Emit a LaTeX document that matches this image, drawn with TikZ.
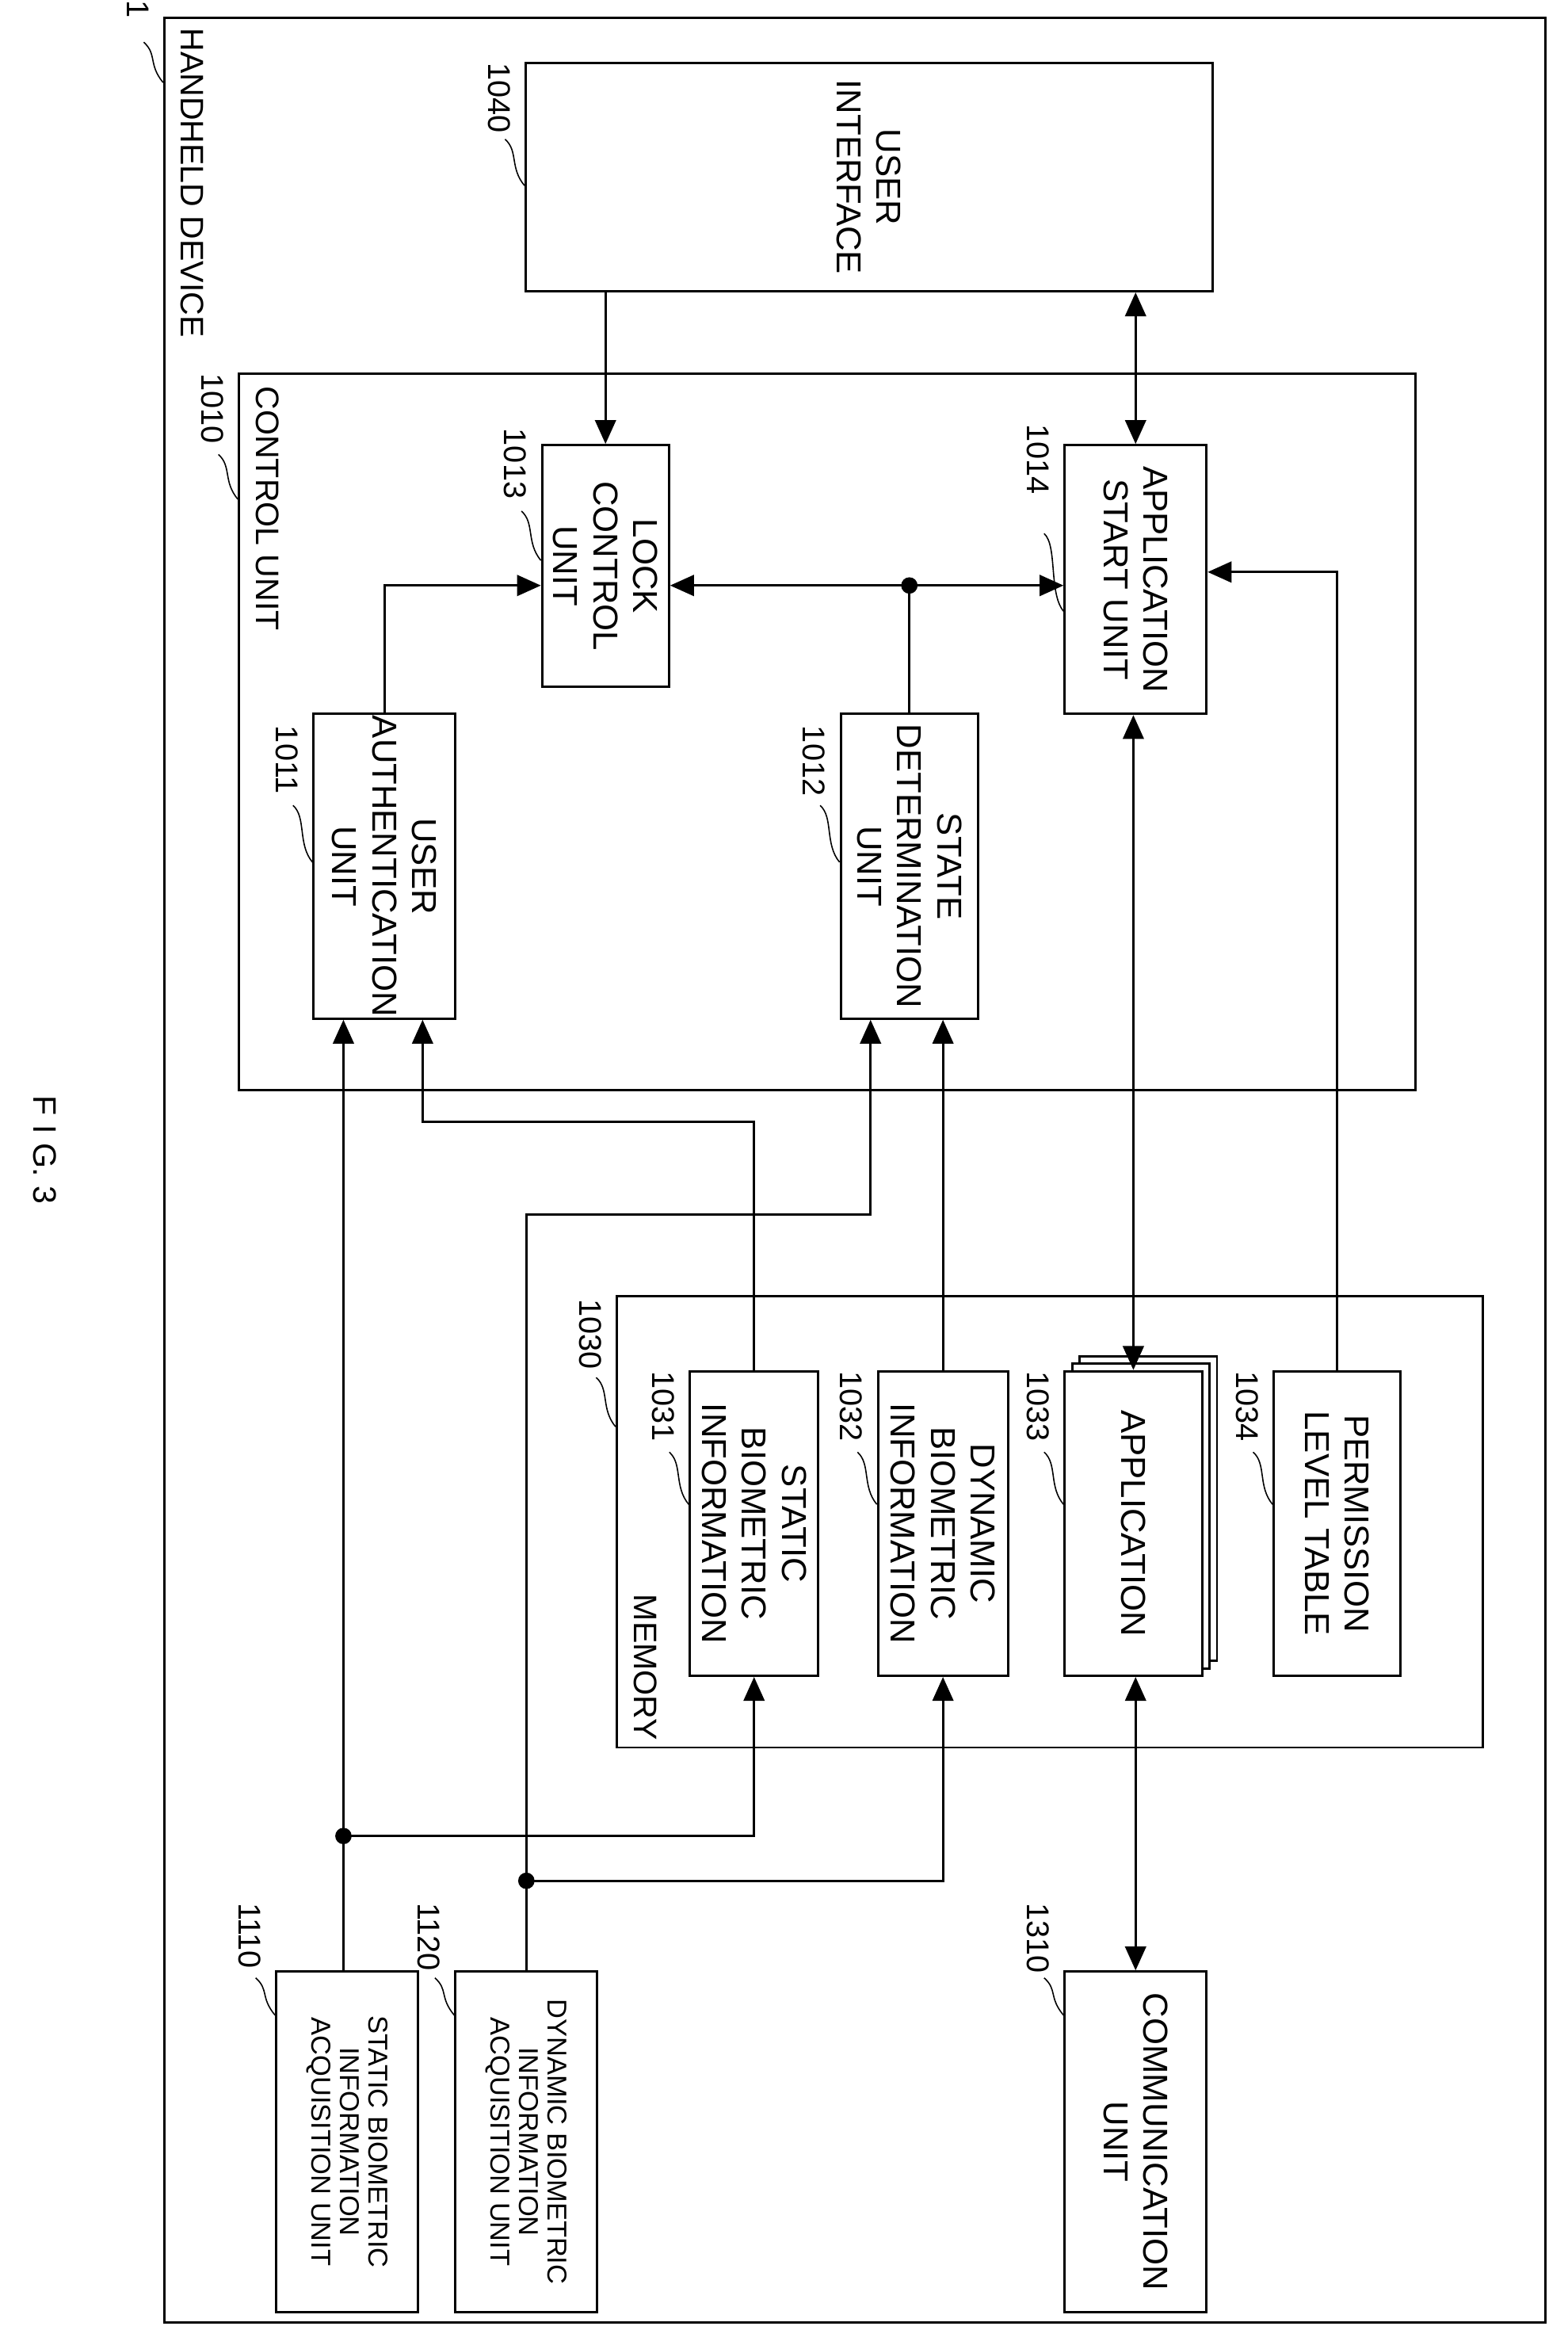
\documentclass[tikz,border=0pt]{standalone}
\usepackage{fontspec}
\setmainfont{Liberation Sans}
\usetikzlibrary{arrows.meta,calc}
\begin{document}
\begin{tikzpicture}[x=0.05cm,y=-0.05cm,
  line width=2.2pt,
  box/.style={draw,rectangle,rotate=-90,align=center,inner sep=0pt,fill=white,font=\fontsize{33}{38}\selectfont},
  abox/.style={box,font=\fontsize{26}{27}\selectfont},
  frame/.style={draw,rectangle,inner sep=0pt},
  num/.style={rotate=-90,inner sep=0pt,font=\fontsize{30}{30}\selectfont},
  ttl/.style={rotate=-90,inner sep=0pt,font=\fontsize{31}{31}\selectfont},
  leader/.style={line width=1.2pt},
  arr/.style={-{Triangle[length=0.8cm,width=0.7cm]}},
  darr/.style={{Triangle[length=0.8cm,width=0.7cm]}-{Triangle[length=0.8cm,width=0.7cm]}},
  dot/.style={circle,fill=black,inner sep=0pt,minimum size=0.55cm}]
\useasboundingbox (0,0) rectangle (1050,1560);
\newcommand\reflbl[5]{%
  \node[num,anchor=west] (n#2) at ($#1+(-17,#3)$) {#2};
  \draw[leader] ($#1+(-13,#4)$) .. controls +(9,8) and +(-10,-12) .. ($#1+(0,#5)$);}

\node[ttl] (fig) at (30,770) {F I G. 3};

% containers
\node[frame,minimum width=46.25cm,minimum height=77.15cm] (outer) at (572.5,783.5) {};
\node[frame,minimum width=39.4cm,minimum height=24cm] (ctrl) at (554,490) {};
\node[frame,minimum width=29cm,minimum height=15.1cm] (mem) at (703,1019) {};
\node[ttl,anchor=west] (thd) at (129,18) {HANDHELD DEVICE};
\node[ttl,anchor=west] (tcu) at (179,258) {CONTROL UNIT};
\node[ttl,anchor=east] (tmem) at (432,1166) {MEMORY};

% boxes
\node[box,minimum width=7.65cm,minimum height=23cm] (ui) at (582,118.5) {USER\\INTERFACE};
\node[box,minimum width=10.2cm,minimum height=4.75cm] (auth) at (257.5,580) {USER\\AUTHENTICATION\\UNIT};
\node[box,minimum width=8.1cm,minimum height=4.25cm] (lock) at (405.5,379) {LOCK\\CONTROL\\UNIT};
\node[box,minimum width=10.2cm,minimum height=4.6cm] (state) at (609,580) {STATE\\DETERMINATION\\UNIT};
\node[box,minimum width=9cm,minimum height=4.75cm] (appst) at (760.5,388) {APPLICATION\\START UNIT};
\node[box,minimum width=10.2cm,minimum height=4.3cm] (sbio) at (505,1020) {STATIC\\BIOMETRIC\\INFORMATION};
\node[box,minimum width=10.2cm,minimum height=4.35cm] (dbio) at (631.5,1020) {DYNAMIC\\BIOMETRIC\\INFORMATION};
\node[box,minimum width=10.2cm,minimum height=4.6cm] (app3) at (769,1010) {};
\node[box,minimum width=10.2cm,minimum height=4.6cm] (app2) at (764,1015) {};
\node[box,minimum width=10.2cm,minimum height=4.6cm] (app) at (759,1020) {APPLICATION};
\node[box,minimum width=10.2cm,minimum height=4.25cm] (perm) at (895.5,1020) {PERMISSION\\LEVEL TABLE};
\node[abox,minimum width=11.4cm,minimum height=4.75cm] (sacq) at (232.5,1434) {STATIC BIOMETRIC\\INFORMATION\\ACQUISITION UNIT};
\node[abox,minimum width=11.4cm,minimum height=4.75cm] (dacq) at (352.5,1434) {DYNAMIC BIOMETRIC\\INFORMATION\\ACQUISITION UNIT};
\node[box,minimum width=11.4cm,minimum height=4.75cm] (comm) at (760.5,1434) {COMMUNICATION\\UNIT};

% reference labels
\reflbl{(outer.north west)}{1}{-12}{17}{44}
\reflbl{(ui.south west)}{1040}{0}{52}{83}
\reflbl{(ctrl.north west)}{1010}{0}{55}{85}
\reflbl{(auth.south west)}{1011}{8}{62}{100}
\reflbl{(lock.south west)}{1013}{-11}{45}{78}
\reflbl{(state.south west)}{1012}{8}{62}{100}
\reflbl{(appst.south west)}{1014}{-14}{60}{112}
\reflbl{(mem.north west)}{1030}{2}{55}{88}
\reflbl{(sbio.south west)}{1031}{0}{55}{90}
\reflbl{(dbio.south west)}{1032}{0}{55}{90}
\reflbl{(app.south west)}{1033}{0}{55}{90}
\reflbl{(perm.south west)}{1034}{0}{55}{90}
\reflbl{(sacq.south west)}{1110}{-46}{5}{30}
\reflbl{(dacq.south west)}{1120}{-46}{5}{30}
\reflbl{(comm.south west)}{1310}{-46}{5}{30}

% connectors
\draw[arr] (lock.west |- ui.east) -- (lock.west);
\draw[darr] (appst.west |- ui.east) -- (appst.west);
\draw[arr] (auth.west) |- ($(lock.south)+(0,13)$);
\node[dot] (j1) at ($(state.west |- lock.south)+(0,13)$) {};
\draw (state.west) -- (j1.center);
\draw[arr] (j1.center) -- ($(lock.north)+(0,13)$);
\draw[arr] (j1.center) -- (j1.center -| appst.south);
\draw[arr] (perm.west) |- ($(appst.north)+(0,-5)$);
\draw[darr] (app.west) -- (app.west |- appst.east);
\draw[darr] (comm.west) -- (comm.west |- app.east);
\node[dot] (j2) at ($(sacq.west)+(-2.5,-90)$) {};
\node[dot] (j3) at ($(dacq.west)+(0,-60)$) {};
\draw (sacq.west -| j2.center) -- (j2.center);
\draw[arr] (j2.center) -- (j2.center |- auth.east);
\draw[arr] (j2.center) -| (sbio.east);
\draw (dacq.west) -- (j3.center);
\draw[arr] (j3.center) -- ++(0,-446) -| ($(state.east)+(-26,0)$);
\draw[arr] (j3.center) -| (dbio.east);
\draw[arr] (sbio.west) -- ++(0,-166) -| ($(auth.east)+(25.5,0)$);
\draw[arr] (dbio.west) -- (dbio.west |- state.east);
\end{tikzpicture}
\end{document}
